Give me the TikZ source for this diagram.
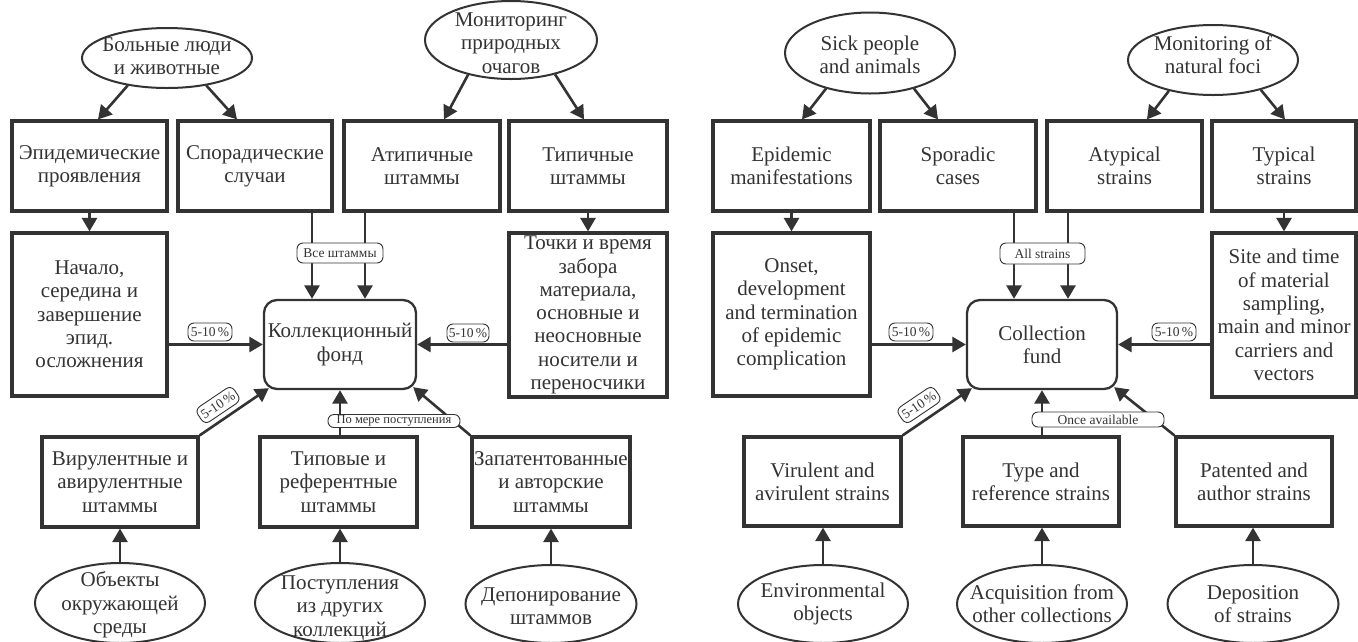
\documentclass[tikz,border=0pt]{standalone}
\usepackage{fontspec}
\setmainfont{Liberation Serif}
\usetikzlibrary{shapes.geometric,calc,arrows.meta}
\definecolor{ink}{HTML}{333333}
\newcommand{\mainfs}{\fontsize{21}{23.3}\selectfont}
\newcommand{\lblfs}{\fontsize{13.5}{14}\selectfont}
\newcommand{\lblsm}{\fontsize{12.5}{13}\selectfont}
\begin{document}
\begin{tikzpicture}[x=1pt,y=-1pt]
\tikzset{
  bx/.style={draw=ink, line width=3.2pt, align=center, inner sep=0pt, font=\mainfs, text=ink},
  fund/.style={bx, line width=2.3pt, rounded corners=13pt},
  ell/.style={draw=ink, line width=2pt, ellipse, inner sep=0pt},
  etxt/.style={align=center, font=\mainfs, text=ink, inner sep=0pt},
  arr/.style={draw=ink, line width=2.6pt, -{Triangle[length=13.5pt,width=15pt]}},
  lbl/.style={draw=ink, line width=0.9pt, rounded corners=6pt, fill=white, font=\lblfs, text=ink, inner sep=0pt},
}
\useasboundingbox (0,0) rectangle (1358,641);
\clip (0,0) rectangle (1358,641);
\fill[white] (0,0) rectangle (1358,641);

% ================= LEFT (Russian) =================
\node[ell, minimum width=170pt, minimum height=60pt, label={[etxt,yshift=2pt]center:{Больные люди\\и животные}}] (e1) at (167,58) {};
\node[ell, minimum width=172pt, minimum height=78pt, label={[etxt,yshift=-3pt]center:{Мониторинг\\природных\\очагов}}] (e2) at (511,40) {};

\node[bx, minimum width=155pt, minimum height=90pt] (b1) at (89.5,166) {Эпидемические\\проявления};
\node[bx, minimum width=154pt, minimum height=90pt] (b2) at (255,166) {Спорадические\\случаи};
\node[bx, minimum width=156pt, minimum height=90pt] (b3) at (422,166) {Атипичные\\штаммы};
\node[bx, minimum width=158pt, minimum height=90pt] (b4) at (588,166) {Типичные\\штаммы};

\node[bx, minimum width=155pt, minimum height=163pt] (b5) at (89.5,314.5) {Начало,\\середина и\\завершение\\эпид.\\осложнения};
\node[bx, minimum width=158pt, minimum height=164pt] (b6) at (588,315) {Точки и время\\забора\\материала,\\основные и\\неосновные\\носители и\\переносчики};

\node[fund, minimum width=152pt, minimum height=89pt] (c1) at (340,344.5) {Коллекционный\\фонд};

\node[bx, minimum width=156pt, minimum height=90pt] (b7) at (120,482) {Вирулентные и\\авирулентные\\штаммы};
\node[bx, minimum width=157pt, minimum height=90pt] (b8) at (338.5,482) {Типовые и\\референтные\\штаммы};
\node[bx, minimum width=158pt, minimum height=90pt] (b9) at (551,482) {Запатентованные\\и авторские\\штаммы};

\node[ell, minimum width=170pt, minimum height=80pt, label={[etxt,yshift=-2pt]center:{Объекты\\окружающей\\среды}}] (e3) at (120,603) {};
\node[ell, minimum width=170pt, minimum height=80pt, label={[etxt,yshift=-5pt]center:{Поступления\\из других\\коллекций}}] (e4) at (340,603) {};
\node[ell, minimum width=171pt, minimum height=78pt, label={[etxt,yshift=-2pt]center:{Депонирование\\штаммов}}] (e5) at (551,604) {};

\draw[arr] (e1.215) -- ($(b1.north)+(8.5,0)$);
\draw[arr] (e1.325) -- ($(b2.north)+(-18,0)$);
\draw[arr] (e2.219) -- ($(b3.north)+(22,0)$);
\draw[arr] (e2.322) -- ($(b4.north)+(-4,0)$);
\draw[arr] (b1.south) -- (b5.north);
\draw[arr] (b4.south) -- (b6.north);
\coordinate (c1n1) at ($(c1.north)+(-28,0)$);
\coordinate (c1n2) at ($(c1.north)+(25,0)$);
\draw[arr] (c1n1 |- b2.south) -- (c1n1);
\draw[arr] (c1n2 |- b3.south) -- (c1n2);
\draw[arr] (c1.west -| b5.east) -- (c1.west);
\draw[arr] (c1.east -| b6.west) -- (c1.east);
\draw[arr] (b7.north east) -- ($(c1.south west)+(6,-2)$);
\draw[arr] (c1.south |- b8.north) -- (c1.south);
\draw[arr] (b9.north west) -- ($(c1.south east)+(-4,-3)$);
\draw[arr] (e3.north) -- (e3.north |- b7.south);
\draw[arr] (e4.north) -- (e4.north |- b8.south);
\draw[arr] (e5.north) -- (e5.north |- b9.south);

\node[lbl, minimum width=86pt, minimum height=20pt] (l1) at (340,253) {Все штаммы};
\node[lbl, minimum width=44pt, minimum height=18pt] (l2) at (210,332) {5-10\,\%};
\node[lbl, minimum width=42pt, minimum height=18pt] (l3) at (468,333) {5-10\,\%};
\node[lbl, minimum width=44pt, minimum height=18pt, rotate=34] (l4) at (218,405) {5-10\,\%};
\node[lbl, font=\lblsm, minimum width=132pt, minimum height=13pt] (l5) at (394,421) {По мере поступления};

% ================= RIGHT (English) =================
\node[ell, minimum width=170pt, minimum height=81pt, label={[etxt,yshift=-2pt]center:{Sick people\\and animals}}] (E1) at (870,53) {};
\node[ell, minimum width=170pt, minimum height=70pt, label={[etxt,yshift=5pt]center:{Monitoring of\\natural foci}}] (E2) at (1213,60) {};

\node[bx, minimum width=157pt, minimum height=90pt] (B1) at (791.5,166) {Epidemic\\manifestations};
\node[bx, minimum width=156pt, minimum height=90pt] (B2) at (958,166) {Sporadic\\cases};
\node[bx, minimum width=155pt, minimum height=90pt] (B3) at (1124.5,166) {Atypical\\strains};
\node[bx, minimum width=144pt, minimum height=90pt] (B4) at (1284,166) {Typical\\strains};

\node[bx, minimum width=157pt, minimum height=163pt] (B5) at (791.5,314.5) {Onset,\\development\\and termination\\of epidemic\\complication};
\node[bx, minimum width=144pt, minimum height=164pt] (B6) at (1284,315) {Site and time\\of material\\sampling,\\main and minor\\carriers and\\vectors};

\node[fund, minimum width=150pt, minimum height=89pt] (C) at (1042,344.5) {Collection\\fund};

\node[bx, minimum width=157pt, minimum height=89pt] (B7) at (822.5,481.5) {Virulent and\\avirulent strains};
\node[bx, minimum width=156pt, minimum height=89pt] (B8) at (1041,481.5) {Type and\\reference strains};
\node[bx, minimum width=156pt, minimum height=89pt] (B9) at (1254,481.5) {Patented and\\author strains};

\node[ell, minimum width=170pt, minimum height=78pt, label={[etxt]center:{Environmental\\objects}}] (E3) at (823,604) {};
\node[ell, minimum width=170pt, minimum height=78pt, label={[etxt]center:{Acquisition from\\other collections}}] (E4) at (1042,604) {};
\node[ell, minimum width=171pt, minimum height=78pt, label={[etxt]center:{Deposition\\of strains}}] (E5) at (1253,604) {};

\draw[arr] (E1.219) -- ($(B1.north)+(10.5,0)$);
\draw[arr] (E1.321) -- ($(B2.north)+(-20,0)$);
\draw[arr] (E2.215) -- ($(B3.north)+(22.5,0)$);
\draw[arr] (E2.328) -- ($(B4.north)+(1,0)$);
\draw[arr] (B1.south) -- (B5.north);
\draw[arr] (B4.south) -- (B6.north);
\coordinate (Cn1) at ($(C.north)+(-28,0)$);
\coordinate (Cn2) at ($(C.north)+(26,0)$);
\draw[arr] (Cn1 |- B2.south) -- (Cn1);
\draw[arr] (Cn2 |- B3.south) -- (Cn2);
\draw[arr] (C.west -| B5.east) -- (C.west);
\draw[arr] (C.east -| B6.west) -- (C.east);
\draw[arr] (B7.north east) -- ($(C.south west)+(6,-2)$);
\draw[arr] (C.south |- B8.north) -- (C.south);
\draw[arr] (B9.north west) -- ($(C.south east)+(-4,-3)$);
\draw[arr] (E3.north) -- (E3.north |- B7.south);
\draw[arr] (E4.north) -- (E4.north |- B8.south);
\draw[arr] (E5.north) -- (E5.north |- B9.south);

\node[lbl, minimum width=85pt, minimum height=21pt] (L1) at (1042.5,253.5) {All strains};
\node[lbl, minimum width=44pt, minimum height=18pt] (L2) at (911,332) {5-10\,\%};
\node[lbl, minimum width=44pt, minimum height=18pt] (L3) at (1174,332) {5-10\,\%};
\node[lbl, minimum width=44pt, minimum height=18pt, rotate=34] (L4) at (919,405) {5-10\,\%};
\node[lbl, minimum width=132pt, minimum height=15pt] (L5) at (1098,419.5) {Once available};
\end{tikzpicture}
\end{document}
